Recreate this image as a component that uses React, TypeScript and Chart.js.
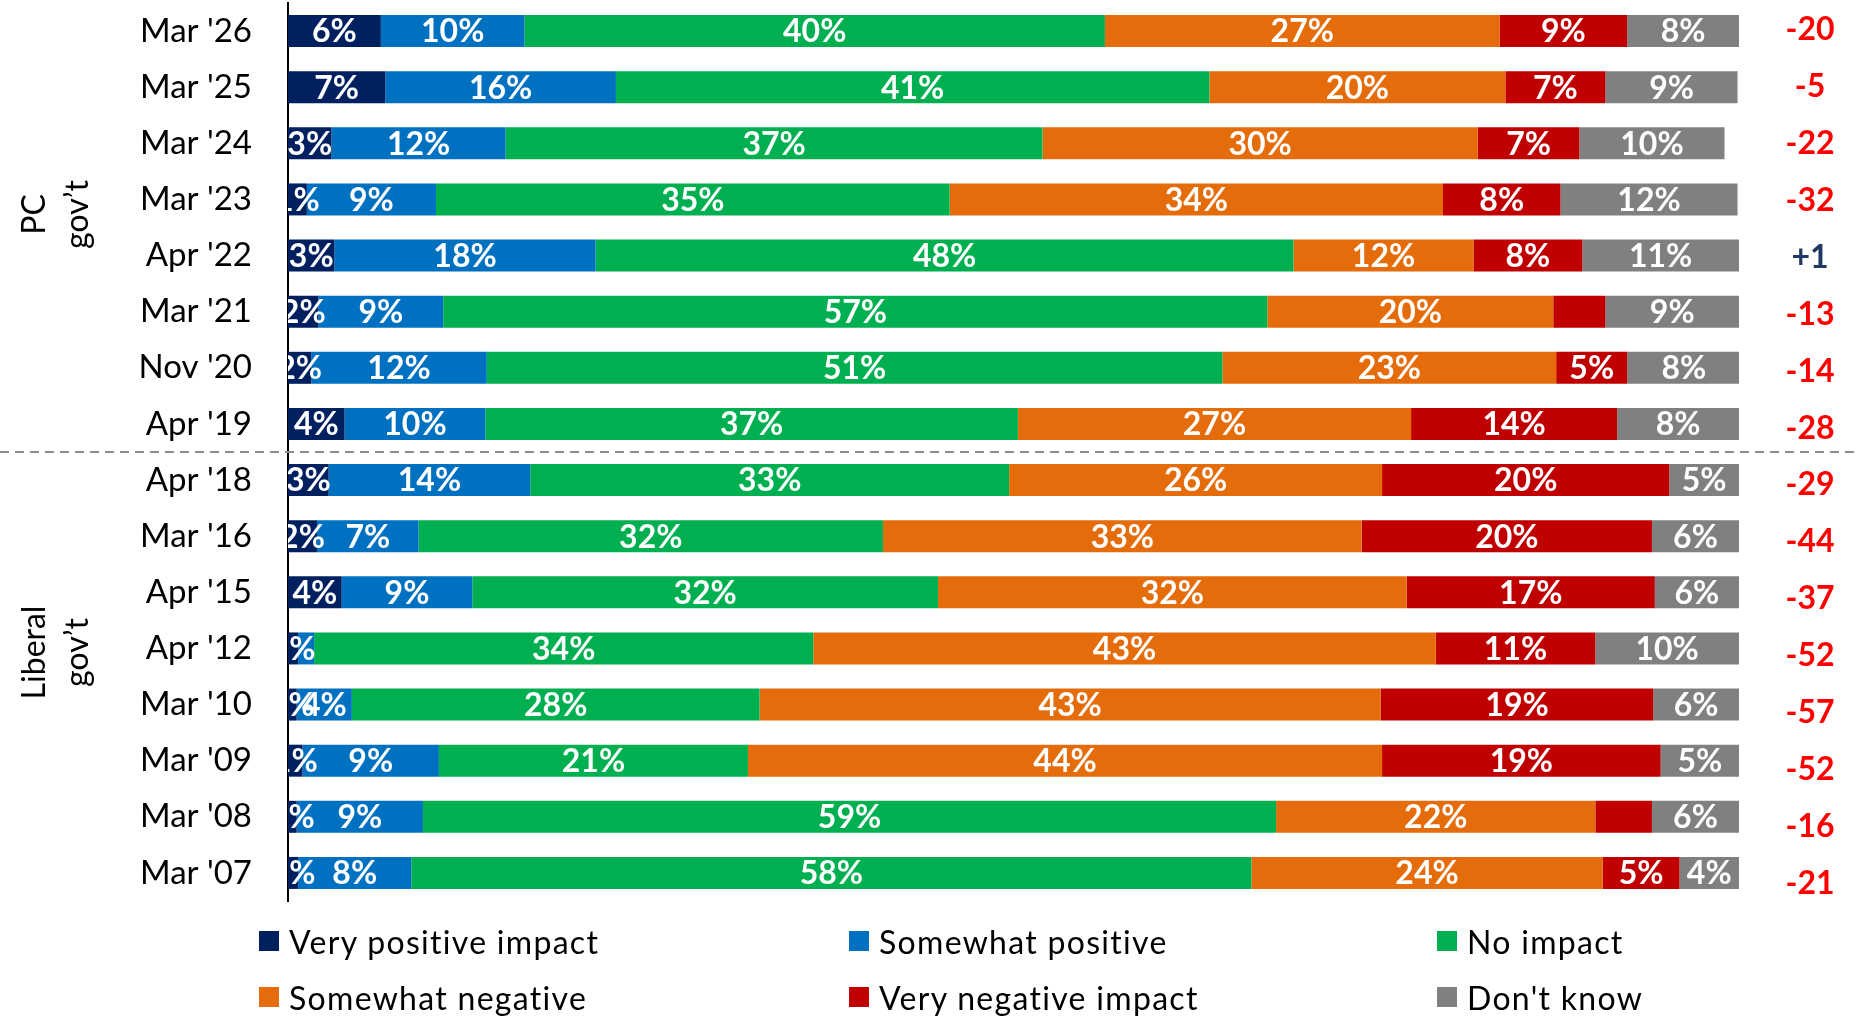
import React, { useEffect, useRef } from "react";
import { Chart, registerables } from "chart.js";

Chart.register(...registerables);

const categories = [
  "Mar '26", "Mar '25", "Mar '24", "Mar '23", "Apr '22", "Mar '21", "Nov '20", "Apr '19",
  "Apr '18", "Mar '16", "Apr '15", "Apr '12", "Mar '10", "Mar '09", "Mar '08", "Mar '07",
];

const veryPositive = [6.4, 6.7, 3.0, 1.3, 3.2, 2.1, 1.6, 3.9, 2.8, 2.0, 3.7, 0.7, 0.6, 1.0, 0.6, 0.7];
const somewhatPositive = [9.9, 15.9, 12.0, 8.9, 18.0, 8.6, 12.1, 9.7, 13.9, 7.0, 9.0, 1.1, 3.8, 9.4, 8.7, 7.8];
const noImpact = [40.0, 40.9, 37.0, 35.4, 48.1, 56.8, 50.7, 36.7, 33.0, 32.0, 32.1, 34.4, 28.1, 21.3, 58.8, 57.9];
const somewhatNegative = [27.2, 20.4, 30.0, 34.0, 12.4, 19.7, 23.0, 27.1, 25.7, 33.0, 32.3, 42.9, 42.8, 43.7, 22.0, 24.2];
const veryNegative = [8.8, 6.9, 7.0, 8.1, 7.5, 3.6, 4.9, 14.2, 19.8, 20.0, 17.1, 11.0, 18.8, 19.2, 3.9, 5.3];
const dontKnow = [7.7, 9.1, 10.0, 12.2, 10.8, 9.2, 7.8, 8.4, 4.8, 6.0, 5.8, 9.9, 5.9, 5.4, 6.0, 4.1];

const netScores = ["-20", "-5", "-22", "-32", "+1", "-13", "-14", "-28", "-29", "-44", "-37", "-52", "-57", "-52", "-16", "-21"];

const seriesNames = ["Very positive impact", "Somewhat positive", "No impact", "Somewhat negative", "Very negative impact", "Don't know"];
const seriesColors = ["#002060", "#0070C0", "#00B050", "#E46C0A", "#C00000", "#808080"];

// [series index, category index] of segments without a value label
const hiddenLabels = [[1, 11], [4, 5], [4, 14]];

const groups = [
  { lines: ["PC", "gov\u2019t"], first: 0, last: 7, shift: -13 },
  { lines: ["Liberal", "gov\u2019t"], first: 8, last: 15, shift: -24 },
];

const FONT = "Lato, 'Open Sans', sans-serif";

const overlayPlugin = {
  id: "overlay",
  afterDatasetsDraw(chart: any) {
    const { ctx, chartArea } = chart;
    ctx.save();
    ctx.beginPath();
    ctx.rect(chartArea.left, chartArea.top, chartArea.right - chartArea.left, chartArea.bottom - chartArea.top);
    ctx.clip();
    ctx.font = `bold 32px ${FONT}`;
    ctx.fillStyle = "#ffffff";
    ctx.textAlign = "center";
    ctx.textBaseline = "middle";
    chart.data.datasets.forEach((ds: any, di: number) => {
      const meta = chart.getDatasetMeta(di);
      meta.data.forEach((el: any, i: number) => {
        if (hiddenLabels.some((h) => h[0] === di && h[1] === i)) return;
        const v = ds.data[i];
        const p = el.getProps(["x", "base", "y"], true);
        ctx.fillText(`${Math.round(v)}%`, (p.x + p.base) / 2, p.y + 1);
      });
    });
    ctx.restore();
  },
  afterDraw(chart: any) {
    const { ctx, chartArea, width } = chart;
    const yScale = chart.scales.y;
    ctx.save();
    // net scores
    ctx.font = `bold 32px ${FONT}`;
    ctx.textAlign = "center";
    ctx.textBaseline = "middle";
    netScores.forEach((s, i) => {
      ctx.fillStyle = s.startsWith("+") ? "#203864" : "#FF0000";
      ctx.fillText(s, chartArea.right + 71, yScale.getPixelForValue(i) - 1 + i * 0.75);
    });
    // dashed separator between the two governments
    const sepY = (yScale.getPixelForValue(7) + yScale.getPixelForValue(8)) / 2;
    ctx.strokeStyle = "#8c8c8c";
    ctx.lineWidth = 2;
    ctx.setLineDash([9, 6]);
    ctx.beginPath();
    ctx.moveTo(0, sepY);
    ctx.lineTo(width, sepY);
    ctx.stroke();
    ctx.setLineDash([]);
    // group titles (rotated)
    ctx.font = `32px ${FONT}`;
    ctx.fillStyle = "#000";
    ctx.textAlign = "center";
    ctx.textBaseline = "alphabetic";
    groups.forEach((g) => {
      const cy = (yScale.getPixelForValue(g.first) + yScale.getPixelForValue(g.last)) / 2 + g.shift;
      ctx.save();
      ctx.translate(45, cy);
      ctx.rotate(-Math.PI / 2);
      g.lines.forEach((ln, k) => ctx.fillText(ln, 0, k * 43));
      ctx.restore();
    });
    ctx.restore();
  },
};

export default function App() {
  const canvasRef = useRef<HTMLCanvasElement | null>(null);

  useEffect(() => {
    const canvas = canvasRef.current;
    if (!canvas) return;
    const values = [veryPositive, somewhatPositive, noImpact, somewhatNegative, veryNegative, dontKnow];
    const chart = new Chart(canvas, {
      type: "bar",
      data: {
        labels: categories,
        datasets: values.map((d, i) => ({
          label: seriesNames[i],
          data: d,
          backgroundColor: seriesColors[i],
          borderWidth: 0,
          categoryPercentage: 1,
          barPercentage: 0.57,
        })),
      },
      options: {
        indexAxis: "y",
        responsive: false,
        animation: false,
        devicePixelRatio: 1,
        layout: { padding: { left: 0, right: 117, top: 3, bottom: 116 } },
        plugins: {
          legend: { display: false },
          tooltip: { enabled: false },
        },
        scales: {
          x: {
            stacked: true,
            min: 0,
            max: 100,
            display: false,
          },
          y: {
            stacked: true,
            grid: { display: false, drawTicks: false },
            border: { display: true, color: "#000", width: 2 },
            ticks: {
              color: "#000",
              padding: 36,
              font: { family: FONT, size: 33 },
            },
            afterFit: (s: any) => {
              s.width = 288;
              s.paddingTop = 0;
              s.paddingBottom = 0;
            },
          },
        },
      },
      plugins: [overlayPlugin],
    });
    return () => chart.destroy();
  }, []);

  const legendPos = [
    { x: 259, y: 941 }, { x: 849, y: 941 }, { x: 1437, y: 941 },
    { x: 259, y: 997 }, { x: 849, y: 997 }, { x: 1437, y: 997 },
  ];

  return (
    <div style={{ position: "fixed", left: 0, top: 0, width: 1856, height: 1017, background: "#fff", overflow: "hidden" }}>
      <canvas ref={canvasRef} width={1856} height={1017} style={{ position: "absolute", left: 0, top: 0 }} />
      {seriesNames.map((name, i) => (
        <div
          key={name}
          style={{
            position: "absolute",
            left: legendPos[i].x,
            top: legendPos[i].y - 20,
            height: 40,
            display: "flex",
            alignItems: "center",
            fontFamily: FONT,
            fontSize: 32,
            letterSpacing: "1.3px",
            color: "#000",
            whiteSpace: "nowrap",
          }}
        >
          <span style={{ display: "inline-block", width: 20, height: 20, background: seriesColors[i], marginRight: 10 }} />
          <span>{name}</span>
        </div>
      ))}
    </div>
  );
}
